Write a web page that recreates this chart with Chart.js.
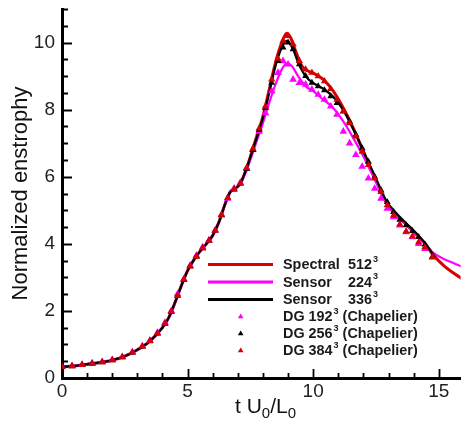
<!DOCTYPE html>
<html><head><meta charset="utf-8">
<script src="https://cdn.jsdelivr.net/npm/chart.js@4"></script>
<style>html,body{margin:0;padding:0;background:#fff}</style>
</head><body>
<canvas id="c" width="465" height="424" style="width:465px;height:424px;display:block"></canvas>
<script>
// ---- data ----
const spectralT = [0,0.5,1.0,1.5,2.0,2.5,3.0,3.5,4.0,4.25,4.5,4.75,5.0,5.25,5.5,5.75,6.0,6.25,6.5,6.7,6.9,7.1,7.3,7.5,7.75,8.0,8.25,8.5,8.75,8.95,9.1,9.3,9.55,9.8,10.1,10.4,10.8,11.2,11.6,12.0,12.4,12.9,13.3,13.6,14.0,14.4,14.8,15.2,15.6,16.0];
const spectralV = [0.33,0.36,0.41,0.46,0.53,0.65,0.84,1.1,1.5,1.8,2.25,2.75,3.2,3.52,3.78,4.0,4.25,4.65,5.2,5.55,5.65,5.8,6.15,6.6,7.2,7.8,8.6,9.4,10.0,10.28,10.15,9.75,9.3,9.15,9.05,8.9,8.55,8.05,7.45,6.75,6.05,5.25,4.85,4.65,4.35,4.05,3.65,3.35,3.12,2.92];

const sensor224T = [0,0.5,1.0,1.5,2.0,2.5,3.0,3.5,4.0,4.25,4.5,4.75,5.0,5.25,5.5,5.75,6.0,6.25,6.5,6.7,6.9,7.1,7.3,7.5,7.75,8.0,8.25,8.5,8.75,8.95,9.15,9.4,9.7,10.0,10.4,10.8,11.2,11.6,12.0,12.4,12.9,13.3,13.6,14.0,14.4,14.8,15.2,15.6,16.0];
const sensor224V = [0.33,0.36,0.41,0.46,0.53,0.65,0.84,1.1,1.5,1.8,2.25,2.75,3.2,3.52,3.78,4.0,4.25,4.65,5.2,5.55,5.65,5.8,6.1,6.5,7.05,7.6,8.2,8.75,9.2,9.38,9.3,9.0,8.7,8.55,8.3,8.05,7.65,7.15,6.6,6.0,5.25,4.85,4.65,4.35,4.05,3.72,3.55,3.42,3.3];

const sensor336T = [0,0.5,1.0,1.5,2.0,2.5,3.0,3.5,4.0,4.25,4.5,4.75,5.0,5.25,5.5,5.75,6.0,6.25,6.5,6.7,6.9,7.1,7.3,7.5,7.75,8.0,8.25,8.5,8.75,8.95,9.2,9.4,9.75,10.1,10.45,10.9,11.3,11.7,12.1,12.5,12.9,13.3,13.7,14.1,14.5,14.85];
const sensor336V = [0.33,0.36,0.41,0.46,0.53,0.65,0.84,1.1,1.5,1.8,2.25,2.75,3.2,3.52,3.78,4.0,4.25,4.65,5.2,5.55,5.65,5.8,6.15,6.58,7.15,7.75,8.5,9.3,9.85,10.05,9.8,9.4,8.95,8.75,8.6,8.3,7.85,7.25,6.6,5.95,5.3,4.92,4.62,4.32,3.98,3.6];

const dgTime = [0,0.4,0.8,1.2,1.6,2.0,2.4,2.8,3.2,3.5,3.8,4.1,4.35,4.6,4.85,5.1,5.35,5.6,5.85,6.1,6.35,6.6,6.85,7.1,7.35,7.6,7.85,8.1,8.35,8.6,8.8,9.0,9.2,9.45,9.7,9.95,10.2,10.45,10.7,10.95,11.2,11.45,11.7,11.95,12.2,12.45,12.7,12.95,13.2,13.45,13.7,13.95,14.2,14.45,14.75];
const dg192V = [0.34,0.36,0.4,0.44,0.48,0.54,0.63,0.77,0.95,1.12,1.35,1.65,2.0,2.5,2.95,3.35,3.65,3.9,4.1,4.4,4.85,5.35,5.65,5.82,6.25,6.8,7.35,7.9,8.55,9.1,9.45,9.35,8.9,8.8,8.75,8.6,8.45,8.3,8.1,7.85,7.35,7.0,6.65,6.3,5.95,5.65,5.35,5.05,4.8,4.55,4.35,4.2,4.0,3.85,3.6];
const dg256V = [0.33,0.35,0.39,0.43,0.47,0.53,0.62,0.76,0.94,1.1,1.33,1.62,1.97,2.45,2.92,3.33,3.62,3.87,4.1,4.4,4.87,5.37,5.62,5.8,6.24,6.8,7.4,8.05,8.8,9.45,9.85,10.0,9.8,9.35,9.0,8.8,8.7,8.58,8.4,8.2,7.95,7.65,7.25,6.85,6.45,6.0,5.6,5.25,4.95,4.72,4.55,4.38,4.2,3.98,3.62];
const dg384V = [0.33,0.35,0.39,0.43,0.47,0.53,0.62,0.76,0.94,1.1,1.33,1.62,1.98,2.45,2.93,3.33,3.62,3.87,4.1,4.4,4.87,5.37,5.62,5.8,6.26,6.84,7.44,8.1,8.9,9.52,10.05,10.2,9.95,9.45,9.2,9.1,9.0,8.85,8.62,8.3,7.95,7.6,7.2,6.75,6.35,5.95,5.55,5.15,4.85,4.58,4.37,4.22,4.05,3.9,3.6];

const seriesNames = ['Spectral', 'Sensor', 'Sensor', 'DG 192', 'DG 256', 'DG 384'];
const seriesRes   = ['512', '224', '336', '', '', ''];
const seriesSuffix = ['', '', '', ' (Chapelier)', ' (Chapelier)', ' (Chapelier)'];
const xTickLabels = [0, 5, 10, 15];
const yTickLabels = [0, 2, 4, 6, 8, 10];

// ---- build ----
const pts = (t, v) => t.map((x, i) => ({x, y: v[i]}));
const RED = '#d60000', MAG = '#ff00ff', BLK = '#000000';

const datasets = [
  {label: 'Spectral 512³', data: pts(spectralT, spectralV), borderColor: RED, borderWidth: 3, pointRadius: 0, showLine: true, order: 6, kind: 'line'},
  {label: 'Sensor 224³', data: pts(sensor224T, sensor224V), borderColor: MAG, borderWidth: 2.2, pointRadius: 0, showLine: true, order: 5, kind: 'line'},
  {label: 'Sensor 336³', data: pts(sensor336T, sensor336V), borderColor: BLK, borderWidth: 2.2, pointRadius: 0, showLine: true, order: 4, kind: 'line'},
  {label: 'DG 192³ (Chapelier)', data: pts(dgTime, dg192V), borderColor: MAG, backgroundColor: MAG, showLine: false, pointStyle: 'triangle', pointRadius: 4.4, pointBorderWidth: 0, order: 3, kind: 'pt'},
  {label: 'DG 256³ (Chapelier)', data: pts(dgTime, dg256V), borderColor: BLK, backgroundColor: BLK, showLine: false, pointStyle: 'triangle', pointRadius: 4.0, pointBorderWidth: 0, order: 2, kind: 'pt'},
  {label: 'DG 384³ (Chapelier)', data: pts(dgTime, dg384V), borderColor: RED, backgroundColor: RED, showLine: false, pointStyle: 'triangle', pointRadius: 4.2, pointBorderWidth: 0, order: 1, kind: 'pt'}
];
datasets.forEach(d => { d.cubicInterpolationMode = 'monotone'; d.fill = false; });

const decor = {
  id: 'decor',
  afterDatasetsDraw(chart) {
    const ctx = chart.ctx, xs = chart.scales.x, ys = chart.scales.y, a = chart.chartArea;
    ctx.save();
    ctx.strokeStyle = '#000';
    ctx.lineWidth = 1.8;
    ctx.beginPath();
    for (let v = 0; v <= Math.floor(xs.max); v += 1) {
      const px = Math.round(xs.getPixelForValue(v)) + 0.5;
      const len = (v % 5 === 0) ? 9 : 5;
      ctx.moveTo(px, a.bottom); ctx.lineTo(px, a.bottom - len);
    }
    for (let v = 0; v <= ys.max + 1e-9; v += 0.5) {
      const py = Math.round(ys.getPixelForValue(v)) + 0.5;
      const len = (Math.abs(v % 2) < 1e-9) ? 10 : 6;
      ctx.moveTo(a.left, py); ctx.lineTo(a.left + len, py);
    }
    ctx.stroke();
    ctx.restore();
  },
  afterDraw(chart) {
    const ctx = chart.ctx;
    ctx.save();
    // x-axis title with subscripts
    ctx.fillStyle = '#111';
    ctx.textBaseline = 'alphabetic';
    const big = '21px "Liberation Sans", Arial, sans-serif';
    const small = '15px "Liberation Sans", Arial, sans-serif';
    const parts = [['t U', big, 0], ['0', small, 5], ['/L', big, 0], ['0', small, 5]];
    let x = 235;
    const base = 413;
    parts.forEach(p => { ctx.font = p[1]; ctx.fillText(p[0], x, base + p[2]); x += ctx.measureText(p[0]).width; });

    // legend
    const rowY = [264.5, 282, 299.5, 316.5, 333.5, 350.5];
    const f = 'bold 14.4px "Liberation Sans", Arial, sans-serif';
    const fs = 'bold 9px "Liberation Sans", Arial, sans-serif';
    chart.data.datasets.forEach((d, i) => {
      const y = rowY[i];
      if (d.kind === 'line') {
        ctx.strokeStyle = d.borderColor; ctx.lineWidth = 3;
        ctx.beginPath(); ctx.moveTo(208, y); ctx.lineTo(273, y); ctx.stroke();
      } else {
        ctx.fillStyle = d.backgroundColor;
        const cx = 240.7, r = 3;
        ctx.beginPath();
        ctx.moveTo(cx, y - r); ctx.lineTo(cx + r * 0.95, y + r * 0.6); ctx.lineTo(cx - r * 0.95, y + r * 0.6);
        ctx.closePath(); ctx.fill();
      }
      ctx.fillStyle = '#1a1a1a';
      ctx.textBaseline = 'middle';
      ctx.font = f;
      let tx = 283;
      if (seriesRes[i]) {
        ctx.fillText(seriesNames[i], tx, y + 1);
        tx = 348;
        ctx.fillText(seriesRes[i], tx, y + 1);
        tx += ctx.measureText(seriesRes[i]).width + 1;
        ctx.font = fs; ctx.fillText('3', tx, y - 5);
      } else {
        ctx.fillText(seriesNames[i], tx, y + 1);
        tx += ctx.measureText(seriesNames[i]).width + 1;
        ctx.font = fs; ctx.fillText('3', tx, y - 5);
        tx += ctx.measureText('3').width;
        ctx.font = f; ctx.fillText(seriesSuffix[i], tx, y + 1);
      }
    });
    ctx.restore();
  }
};

new Chart(document.getElementById('c'), {
  type: 'scatter',
  data: {datasets},
  options: {
    responsive: false,
    animation: false,
    devicePixelRatio: 1,
    layout: {padding: {top: 9, right: 0, left: 0, bottom: 0}},
    plugins: {legend: {display: false}, tooltip: {enabled: false}},
    scales: {
      x: {
        type: 'linear', min: 0, max: 15.87,
        grid: {display: false, drawTicks: false},
        border: {display: true, color: '#000', width: 3},
        ticks: {
          stepSize: 5, includeBounds: false, padding: 2, color: '#222',
          font: {family: '"Liberation Sans", Arial, sans-serif', size: 19},
          callback: v => xTickLabels.includes(v) ? String(v) : ''
        },
        afterFit: s => { s.height = 46; s.paddingLeft = 0; s.paddingRight = 0; }
      },
      y: {
        type: 'linear', min: 0, max: 11,
        grid: {display: false, drawTicks: false},
        border: {display: true, color: '#000', width: 3},
        ticks: {
          stepSize: 2, includeBounds: false, padding: 7, color: '#222',
          font: {family: '"Liberation Sans", Arial, sans-serif', size: 19},
          callback: v => yTickLabels.includes(v) ? String(v) : ''
        },
        title: {
          display: true, text: 'Normalized enstrophy', color: '#111',
          font: {family: '"Liberation Sans", Arial, sans-serif', size: 22},
          padding: {top: 8, bottom: 0}
        },
        afterFit: s => { s.width = 62; s.paddingTop = 0; s.paddingBottom = 0; }
      }
    }
  },
  plugins: [decor]
});
</script>
</body></html>
